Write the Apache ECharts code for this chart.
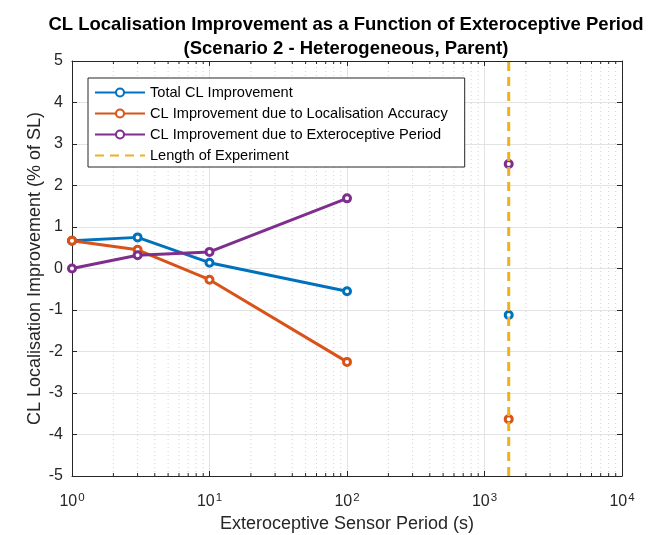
<!DOCTYPE html>
<html lang="en" style="height: 100%">
  <head>
    <meta charset="utf-8" />
  </head>
  <body style="margin: 0; height: 100%; background: #fff">
    <div id="container" style="width: 654px; height: 535px"></div>
    <script type="text/javascript" src="https://cdn.jsdelivr.net/npm/echarts@6/dist/echarts.min.js"></script>
    <script type="text/javascript">
      // values
      var periods = [1, 3, 10, 100];
      var experimentLength = 1500;
      var totalImprovement = [0.67, 0.75, 0.14, -0.55];
      var accuracyImprovement = [0.67, 0.45, -0.27, -2.25];
      var periodImprovement = [0, 0.32, 0.4, 1.69];
      var atExperimentEnd = { total: -1.12, accuracy: -3.63, period: 2.52 };
      var seriesNames = [
        "Total CL Improvement",
        "CL Improvement due to Localisation Accuracy",
        "CL Improvement due to Exteroceptive Period",
        "Length of Experiment",
      ];
      var colors = ["#0072BD", "#D95319", "#7E2F8E", "#EDB120"];
      var yRange = [-5, 5];
      var xRange = [1, 10000];

      // minor log grid positions (2..9 x 10^k)
      var minorX = [];
      for (var k = 0; k < 4; k++) {
        for (var m = 2; m <= 9; m++) minorX.push(m * Math.pow(10, k));
      }

      function withEnd(vals, endVal) {
        var d = periods.map(function (p, i) {
          return [p, vals[i]];
        });
        d.push([300, "-"]);
        d.push([experimentLength, endVal]);
        return d;
      }

      var dom = document.getElementById("container");
      var myChart = echarts.init(dom, null, { renderer: "canvas" });

      var font = "Liberation Sans";
      var axisColor = "#262626";

      function lineSeries(idx, data) {
        return {
          name: seriesNames[idx],
          type: "line",
          data: data,
          connectNulls: false,
          symbol: "circle",
          symbolSize: 7,
          showAllSymbol: true,
          lineStyle: { width: 3, color: colors[idx] },
          itemStyle: { color: "#fff", borderColor: colors[idx], borderWidth: 3 },
          z: 3,
        };
      }

      var option = {
        animation: false,
        backgroundColor: "#fff",
        textStyle: { fontFamily: font },
        title: {
          text: "CL Localisation Improvement as a Function of Exteroceptive Period\n(Scenario 2 - Heterogeneous, Parent)",
          left: 341,
          top: 8,
          textAlign: "center",
          textStyle: {
            fontFamily: font,
            fontSize: 18.5,
            fontWeight: "bold",
            color: "#000",
            lineHeight: 24,
          },
        },
        legend: {
          data: [
            seriesNames[0],
            seriesNames[1],
            seriesNames[2],
            { name: seriesNames[3], itemStyle: { opacity: 0 } },
          ],
          orient: "vertical",
          left: 88,
          top: 78,
          itemWidth: 50,
          itemHeight: 10,
          itemGap: 4,
          padding: [6, 17, 3, 6],
          backgroundColor: "#fff",
          borderColor: "#262626",
          borderWidth: 1,
          borderRadius: 0,
          textStyle: { fontFamily: font, fontSize: 14.6, color: "#000", lineHeight: 17 },
          z: 10,
        },
        grid: { left: 72, right: 32, top: 61, bottom: 59, containLabel: false, outerBoundsMode: "none" },
        xAxis: [
          {
            type: "log",
            logBase: 10,
            min: xRange[0],
            max: xRange[1],
            name: "Exteroceptive Sensor Period (s)",
            nameLocation: "middle",
            nameGap: 39,
            nameTextStyle: { fontFamily: font, fontSize: 18, color: axisColor },
            axisLine: { onZero: false, lineStyle: { color: axisColor, width: 1 } },
            axisTick: { inside: true, length: 5, lineStyle: { color: axisColor } },
            axisLabel: {
              margin: 10,
              color: axisColor,
              formatter: function (v) {
                var e = Math.round(Math.log10(v));
                return "{b|10}{s|" + e + "}";
              },
              rich: {
                b: { fontFamily: font, fontSize: 16, color: axisColor, padding: [8, 0, 0, 0] },
                s: { fontFamily: font, fontSize: 11.5, color: axisColor, padding: [0, 0, 0, 1] },
              },
            },
            splitLine: { show: true, lineStyle: { color: "#e3e3e3", width: 1 } },
          },
          {
            type: "log",
            logBase: 10,
            min: xRange[0],
            max: xRange[1],
            position: "top",
            axisLine: { onZero: false, lineStyle: { color: axisColor, width: 1 } },
            axisTick: { inside: true, length: 5, lineStyle: { color: axisColor } },
            axisLabel: { show: false },
            splitLine: { show: false },
          },
        ],
        yAxis: [
          {
            type: "value",
            min: yRange[0],
            max: yRange[1],
            interval: 1,
            name: "CL Localisation Improvement (% of SL)",
            nameLocation: "middle",
            nameGap: 28,
            nameMoveOverlap: false,
            nameTextStyle: { fontFamily: font, fontSize: 18, color: axisColor },
            axisLine: { show: true, onZero: false, lineStyle: { color: axisColor, width: 1 } },
            axisTick: { show: true, inside: true, length: 5, lineStyle: { color: axisColor } },
            axisLabel: { fontFamily: font, fontSize: 16, color: axisColor, margin: 9 },
            splitLine: { show: true, lineStyle: { color: "#e3e3e3", width: 1 } },
          },
          {
            type: "value",
            min: yRange[0],
            max: yRange[1],
            interval: 1,
            position: "right",
            axisLine: { show: true, onZero: false, lineStyle: { color: axisColor, width: 1 } },
            axisTick: { show: true, inside: true, length: 5, lineStyle: { color: axisColor } },
            axisLabel: { show: false },
            splitLine: { show: false },
          },
        ],
        series: [
          {
            type: "custom",
            silent: true,
            z: 1,
            data: minorX,
            encode: { x: 0 },
            renderItem: function (params, api) {
              var x = api.value(0);
              var bottom = api.coord([x, yRange[0]]);
              var top = api.coord([x, yRange[1]]);
              return {
                type: "group",
                children: [
                  {
                    type: "line",
                    shape: { x1: bottom[0], y1: bottom[1], x2: top[0], y2: top[1] },
                    style: { stroke: "#d4d4d4", lineWidth: 1, lineDash: [1, 3] },
                  },
                  {
                    type: "line",
                    shape: { x1: bottom[0], y1: bottom[1], x2: bottom[0], y2: bottom[1] - 3 },
                    style: { stroke: axisColor, lineWidth: 1 },
                  },
                  {
                    type: "line",
                    shape: { x1: top[0], y1: top[1], x2: top[0], y2: top[1] + 3 },
                    style: { stroke: axisColor, lineWidth: 1 },
                  },
                ],
              };
            },
          },
          lineSeries(0, withEnd(totalImprovement, atExperimentEnd.total)),
          lineSeries(1, withEnd(accuracyImprovement, atExperimentEnd.accuracy)),
          lineSeries(2, withEnd(periodImprovement, atExperimentEnd.period)),
          {
            name: seriesNames[3],
            type: "line",
            data: [
              [experimentLength, yRange[0]],
              [experimentLength, yRange[1]],
            ],
            symbol: "none",
            lineStyle: { width: 3, color: colors[3], type: [9, 6] },
            itemStyle: { color: colors[3] },
            z: 4,
          },
        ],
      };

      myChart.setOption(option);
      window.addEventListener("resize", myChart.resize);
    </script>
  </body>
</html>
